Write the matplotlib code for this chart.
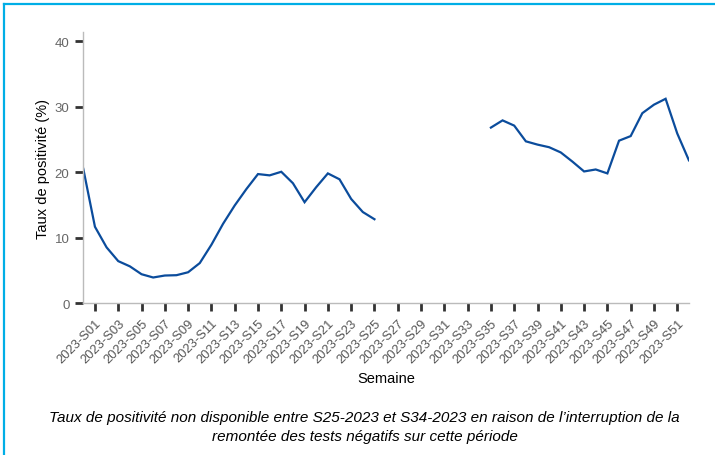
import matplotlib.pyplot as plt
from matplotlib.lines import Line2D

# semaines : position 0 = derniere semaine de 2022, puis 2023-S01 .. 2023-S52
semaines = ["2022-S52"] + ["2023-S%02d" % i for i in range(1, 53)]
positions = list(range(len(semaines)))

# taux de positivite (%), None = non disponible (S26 a S34)
taux = [20.5, 11.65, 8.5, 6.4, 5.6, 4.4, 3.9, 4.2, 4.25, 4.7,
        6.1, 8.9, 12.1, 14.9, 17.4, 19.7, 19.5, 20.05, 18.3, 15.4,
        17.7, 19.8, 18.9, 15.9, 13.9, 12.8,
        None, None, None, None, None, None, None, None, None,
        26.8, 27.9, 27.1, 24.7, 24.2, 23.8, 23.0, 21.6, 20.1, 20.4,
        19.8, 24.8, 25.5, 29.0, 30.3, 31.2, 25.9, 21.8]

yticks = [0, 10, 20, 30, 40]

plt.rcParams['font.family'] = ['Liberation Sans', 'DejaVu Sans']

fig = plt.figure(figsize=(7.15, 4.56), dpi=100)
ax = fig.add_axes([0.1165, 0.3333, 0.847, 0.5943])

y = [float('nan') if v is None else v for v in taux]
ax.plot(positions, y, color='#0b4c9c', lw=1.6, solid_joinstyle='miter')

ax.set_xlim(0, 52)
ax.set_ylim(0, 41.4)
ax.set_yticks(yticks)
ax.set_yticklabels([str(t) for t in yticks], color='#666666', fontsize=9.5)

ax.set_xticks(positions[1::2])
ax.set_xticklabels(semaines[1::2], rotation=45, ha='right', rotation_mode='anchor',
                   color='#555555', fontsize=9.3)

ax.tick_params(axis='both', direction='out', length=6, width=2, color='#333333')
ax.tick_params(axis='x', pad=4)
ax.tick_params(axis='y', pad=4)

for s in ['top', 'right']:
    ax.spines[s].set_visible(False)
for s in ['left', 'bottom']:
    ax.spines[s].set_color('#bbbbbb')
    ax.spines[s].set_linewidth(1)

ax.set_ylabel("Taux de positivité (%)", fontsize=10.5, labelpad=3)
ax.set_xlabel("Semaine", fontsize=10.5, labelpad=4)

fig.text(0.51, 0.062,
         "Taux de positivité non disponible entre S25-2023 et S34-2023 en raison de l\u2019interruption de la\n"
         "remontée des tests négatifs sur cette période",
         ha='center', va='center', fontsize=11, style='italic', linespacing=1.5,
         family=['Liberation Sans Narrow', 'Liberation Sans', 'DejaVu Sans'])

# cadre bleu (haut et gauche)
fig.add_artist(Line2D([3.5 / 715, 1], [1 - 5 / 456, 1 - 5 / 456], color='#00aee6', lw=1.6,
                      transform=fig.transFigure))
fig.add_artist(Line2D([3.5 / 715, 3.5 / 715], [0, 1 - 5 / 456], color='#00aee6', lw=1.6,
                      transform=fig.transFigure))

fig.savefig('out.png', dpi=100)
